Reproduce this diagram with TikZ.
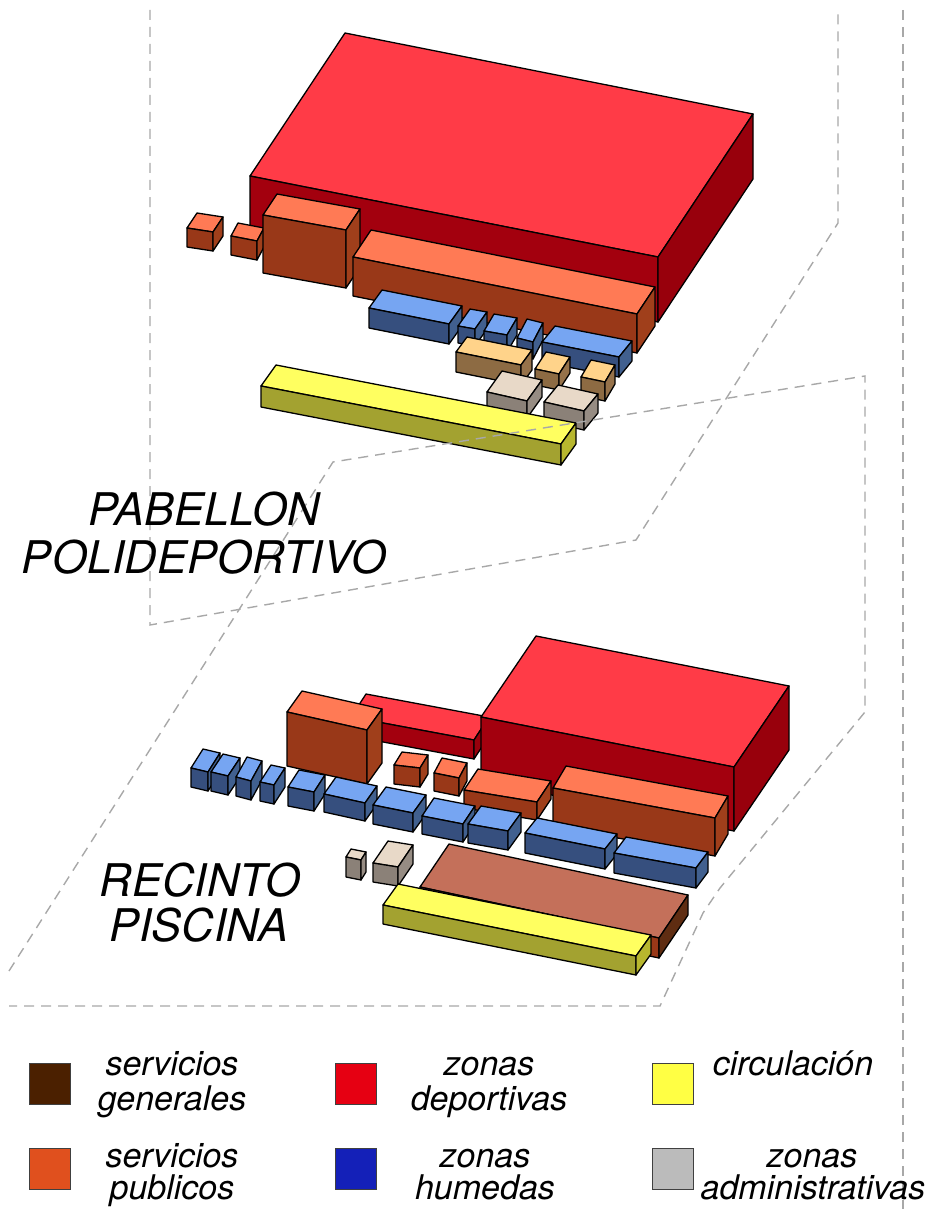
\documentclass[tikz,border=0pt]{standalone}
\usepackage{fontspec}
\setmainfont{TeX Gyre Heros}
\usetikzlibrary{calc}
\definecolor{rT}{HTML}{FF3B47}\definecolor{rF}{HTML}{A3000E}\definecolor{rS}{HTML}{98000C}
\definecolor{oT}{HTML}{FF7A55}\definecolor{oF}{HTML}{993818}\definecolor{oS}{HTML}{A03F1B}
\definecolor{bT}{HTML}{76A5F2}\definecolor{bF}{HTML}{364F7E}\definecolor{bS}{HTML}{41608F}
\definecolor{yT}{HTML}{FFFF60}\definecolor{yF}{HTML}{A3A230}\definecolor{yS}{HTML}{B8B72E}
\definecolor{tT}{HTML}{FFD38A}\definecolor{tF}{HTML}{8D6B43}\definecolor{tS}{HTML}{96724A}
\definecolor{gT}{HTML}{E8D9C8}\definecolor{gF}{HTML}{8B8178}\definecolor{gS}{HTML}{968C83}
\definecolor{mT}{HTML}{C4705A}\definecolor{mF}{HTML}{993818}\definecolor{mS}{HTML}{5F2D12}
\definecolor{dashgray}{HTML}{A8A8A8}
\tikzset{
  faceline/.style={draw=black,line width=1.3pt,line join=round},
  limitline/.style={draw=dashgray,line width=1.4pt,dash pattern=on 10pt off 7pt},
  swatch/.style={draw=black!75,line width=1.3pt,minimum width=41pt,minimum height=41pt,inner sep=0pt,anchor=north west},
  bigtext/.style={font=\fontsize{45}{48}\selectfont\itshape,align=center,inner sep=0pt,anchor=base},
  legtext/.style={font=\fontsize{34}{34}\selectfont\itshape,inner sep=0pt,anchor=base}
}
% family, front-top-left, front-top-right, depth vector, height
\newcommand{\isobox}[5]{%
  \fill[faceline,fill=#1T] (#2) -- (#3) -- ($(#3)+(#4)$) -- ($(#2)+(#4)$) -- cycle;
  \fill[faceline,fill=#1F] (#2) -- (#3) -- ($(#3)+(0,#5)$) -- ($(#2)+(0,#5)$) -- cycle;
  \fill[faceline,fill=#1S] (#3) -- ($(#3)+(#4)$) -- ($(#3)+(#4)+(0,#5)$) -- ($(#3)+(0,#5)$) -- cycle;
}
\begin{document}
\begin{tikzpicture}[x=1pt,y=-1pt]
\useasboundingbox (0,0) rectangle (932,1209);
% Pabellon
\isobox{r}{250,176}{658,257}{95,-143}{65}
\isobox{o}{187,228}{213,232}{10,-15}{19}
\isobox{o}{231,236}{257,241}{7,-13}{19}
\isobox{o}{263,215}{346,230}{14,-21}{58}
\isobox{o}{353,257}{637,314}{18,-27}{39}
\isobox{b}{369,308}{449,324}{13,-18}{20}
\isobox{b}{458,326}{475,329}{12,-17}{17}
\isobox{b}{484,331}{507,335}{10,-17}{17}
\isobox{b}{517,338}{533,342}{10,-19}{17}
\isobox{b}{542,342}{619,357}{13,-16}{20}
\isobox{t}{456,352}{521,365}{11,-15}{20}
\isobox{t}{535,369}{559,374}{11,-17}{16}
\isobox{t}{581,377}{605,382}{10,-17}{19}
\isobox{g}{487,392}{527,401}{15,-21}{17}
\isobox{g}{544,402}{584,411}{14,-17}{19}
\isobox{y}{261,386}{561,444}{15,-21}{21}
% Recinto
\isobox{r}{351,717}{474,740}{15,-23}{19}
\isobox{r}{481,717}{734,767}{55,-81}{64}
\isobox{o}{287,712}{367,730}{15,-21}{54}
\isobox{o}{394,765}{420,768}{8,-13}{19}
\isobox{o}{434,773}{459,778}{8,-15}{18}
\isobox{o}{464,790}{537,802}{14,-21}{18}
\isobox{o}{553,788}{715,818}{13,-22}{38}
\isobox{b}{191,768}{208,772}{12,-19}{19}
\isobox{b}{211,772}{228,776}{12,-18}{19}
\isobox{b}{236,777}{251,781}{11,-20}{19}
\isobox{b}{260,782}{274,785}{11,-17}{19}
\isobox{b}{288,787}{314,792}{11,-17}{19}
\isobox{b}{324,794}{365,803}{12,-17}{18}
\isobox{b}{373,805}{413,813}{13,-18}{19}
\isobox{b}{422,816}{463,824}{12,-18}{18}
\isobox{b}{468,824}{508,831}{13,-18}{19}
\isobox{b}{525,833}{605,849}{12,-15}{20}
\isobox{b}{614,853}{696,868}{12,-16}{20}
\isobox{g}{346,857}{361,860}{5,-8}{20}
\isobox{g}{373,863}{398,867}{15,-22}{19}
\isobox{m}{420,887}{659,938}{29,-43}{20}
\isobox{y}{383,905}{636,956}{15,-21}{19}
% limits
\coordinate (a1) at (150,10);\coordinate (a2) at (150,625);\coordinate (a3) at (636,540);
\coordinate (a4) at (838,223);\coordinate (a5) at (838,10);
\draw[limitline] (a1) -- (a2) -- (a3) -- (a4) -- (a5);
\coordinate (c1) at (9,971);\coordinate (c2) at (333,462);\coordinate (c3) at (865,376);
\coordinate (c4) at (865,712);\coordinate (c5) at (720,888);\coordinate (c6) at (703,913);
\coordinate (c7) at (660,1006);\coordinate (c8) at (9,1006);
\draw[limitline] (c1) -- (c2) -- (c3) -- (c4) -- (c5) -- (c6) -- (c7) -- (c8);
\coordinate (e1) at (903,10);\coordinate (e2) at (903,1209);
\draw[limitline] (e1) -- (e2);
% titles
\node[bigtext] (t1) at (204,525) {PABELLON};
\node[bigtext] (t2) at (204,573) {POLIDEPORTIVO};
\node[bigtext] (t3) at (200,896) {RECINTO};
\node[bigtext] (t4) at (199,941) {PISCINA};
% legend
\node[swatch,fill=black!0,fill={rgb,255:red,75;green,32;blue,0}] (s1) at (29,1063) {};
\node[swatch,fill={rgb,255:red,230;green,0;blue,18}] (s2) at (335,1063) {};
\node[swatch,fill={rgb,255:red,255;green,255;blue,68}] (s3) at (652,1063) {};
\node[swatch,fill={rgb,255:red,224;green,80;blue,30}] (s4) at (29,1148) {};
\node[swatch,fill={rgb,255:red,20;green,32;blue,184}] (s5) at (335,1148) {};
\node[swatch,fill={rgb,255:red,187;green,187;blue,187}] (s6) at (652,1148) {};
\node[legtext] (l1) at (172,1075) {servicios};
\node[legtext] (l2) at (172,1110) {generales};
\node[legtext] (l3) at (489,1075) {zonas};
\node[legtext] (l4) at (489,1110) {deportivas};
\node[legtext] (l5) at (793,1075) {circulación};
\node[legtext] (l6) at (172,1167) {servicios};
\node[legtext] (l7) at (172,1199) {publicos};
\node[legtext] (l8) at (485,1167) {zonas};
\node[legtext] (l9) at (485,1199) {humedas};
\node[legtext] (l10) at (812,1167) {zonas};
\node[legtext] (l11) at (813,1199) {administrativas};
\end{tikzpicture}
\end{document}
